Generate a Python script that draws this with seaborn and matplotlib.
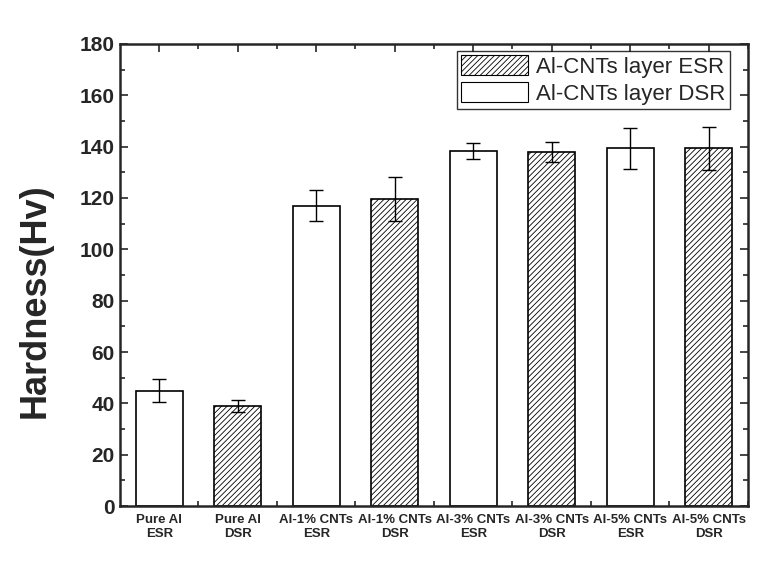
import matplotlib
matplotlib.use("Agg")
import matplotlib.pyplot as plt
import seaborn as sns
import pandas as pd
import numpy as np
from matplotlib.patches import Patch
from matplotlib.ticker import MultipleLocator

categories = ["Pure Al\nESR", "Pure Al\nDSR", "Al-1% CNTs\nESR", "Al-1% CNTs\nDSR",
              "Al-3% CNTs\nESR", "Al-3% CNTs\nDSR", "Al-5% CNTs\nESR", "Al-5% CNTs\nDSR"]
hardness = [45.0, 39.0, 117.0, 119.5, 138.3, 137.8, 139.4, 139.4]
errors = [4.5, 2.3, 6.0, 8.5, 3.2, 3.9, 8.0, 8.4]
hatched = [False, True, False, True, False, True, False, True]
legend_labels = ["Al-CNTs layer ESR", "Al-CNTs layer DSR"]

sns.set_style("ticks")
plt.rcParams['font.family'] = ['Liberation Sans', 'DejaVu Sans']
plt.rcParams['hatch.linewidth'] = 0.6
plt.rcParams['hatch.color'] = '#444444'

df = pd.DataFrame({"cat": categories, "val": hardness})

fig = plt.figure(figsize=(7.74, 5.69), dpi=100)
ax = fig.add_axes([0.155, 0.1107, 0.8114, 0.812])

sns.barplot(data=df, x="cat", y="val", color="white", edgecolor="black",
            linewidth=1.2, width=0.6, errorbar=None, ax=ax, saturation=1)
for p, h in zip(ax.patches, hatched):
    p.set_facecolor("white")
    if h:
        p.set_hatch("//////")

ax.errorbar(np.arange(len(categories)), hardness, yerr=errors, fmt="none",
            ecolor="black", elinewidth=1.0, capsize=5, capthick=1.0)

ax.set_xlim(-0.5, len(categories) - 0.5)
ax.set_ylim(0, 180)
ax.yaxis.set_major_locator(MultipleLocator(20))
ax.yaxis.set_minor_locator(MultipleLocator(10))
ax.set_xticks(np.arange(len(categories)))
ax.set_xticks(np.arange(len(categories)) + 0.5, minor=True)
ax.set_xticklabels(categories, fontsize=9.5, fontweight="bold")
for lab in ax.get_yticklabels():
    lab.set_fontsize(15)
    lab.set_fontweight("bold")

ax.tick_params(axis="both", which="major", direction="in", length=6, width=1.2,
               top=True, right=True)
ax.tick_params(axis="both", which="minor", direction="in", length=3.5, width=1.2,
               top=True, right=True)
ax.tick_params(axis="y", pad=4)
ax.tick_params(axis="x", pad=6)
for s in ax.spines.values():
    s.set_linewidth(1.8)
    s.set_visible(True)

ax.set_xlabel("")
ax.set_ylabel("Hardness(Hv)", fontsize=26, fontweight="bold")
ax.yaxis.set_label_coords(-0.108, 0.444)

handles = [Patch(facecolor="white", edgecolor="black", hatch="//////", linewidth=0.8),
           Patch(facecolor="white", edgecolor="black", linewidth=0.8)]
leg = ax.legend(handles, legend_labels, loc="upper right", bbox_to_anchor=(0.978, 0.995),
                fontsize=16, frameon=True, fancybox=False, edgecolor="black",
                handlelength=3.0, handleheight=1.0, handletextpad=0.35,
                borderpad=0.2, labelspacing=0.2, borderaxespad=0.2)
leg.get_frame().set_linewidth(1.0)

fig.savefig("out.png", dpi=100)
